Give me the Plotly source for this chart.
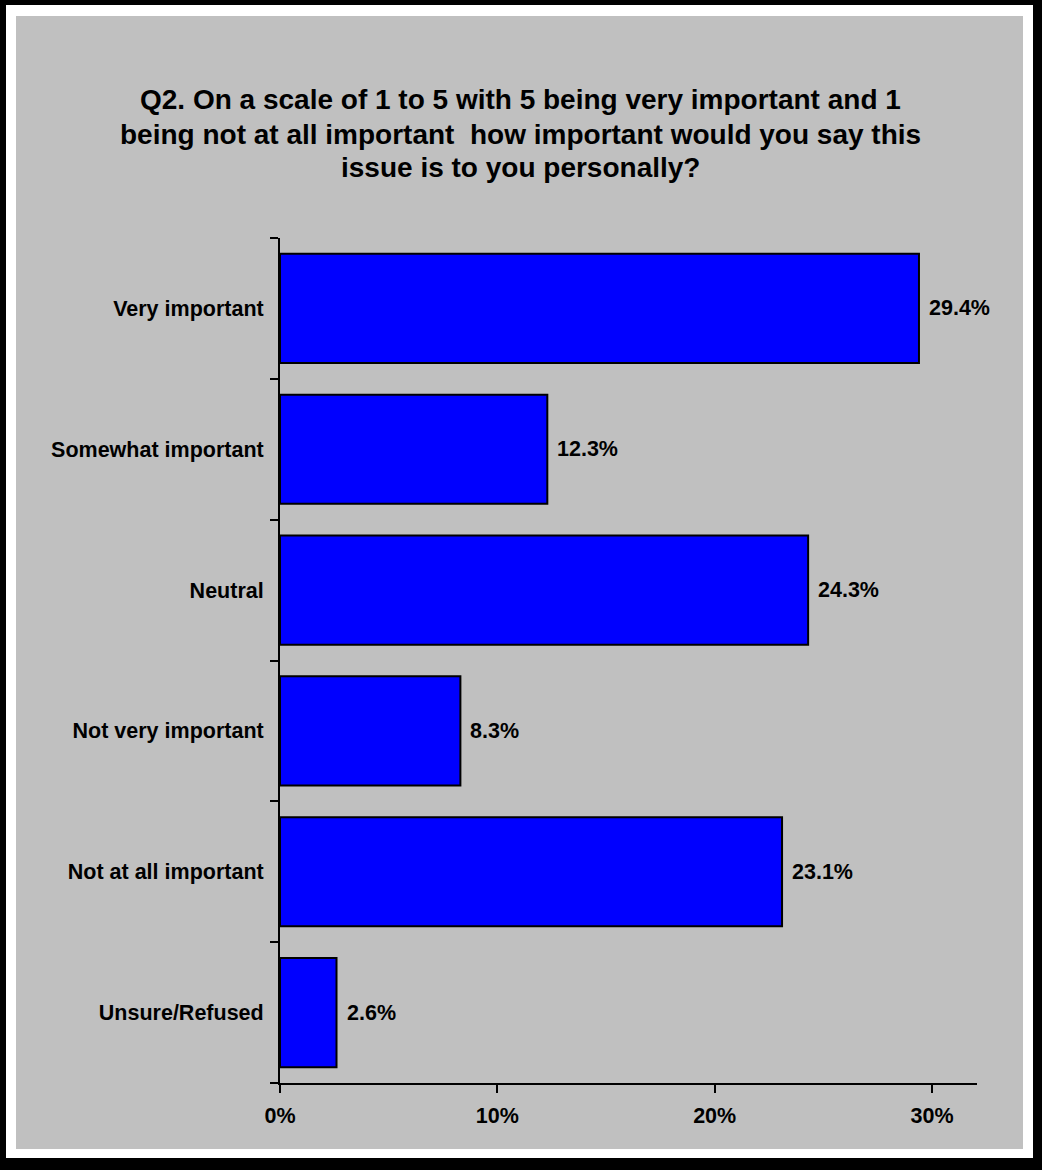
import plotly.graph_objects as go

categories = ["Very important", "Somewhat important", "Neutral",
              "Not very important", "Not at all important", "Unsure/Refused"]
values = [29.4, 12.3, 24.3, 8.3, 23.1, 2.6]
value_labels = ["29.4%", "12.3%", "24.3%", "8.3%", "23.1%", "2.6%"]
x_tickvals = [0, 10, 20, 30]
x_ticktext = ["0%", "10%", "20%", "30%"]
title_lines = ["Q2. On a scale of 1 to 5 with 5 being very important and 1",
               "being not at all important  how important would you say this",
               "issue is to you personally?"]

W, H = 1042, 1170
L, R, T, B = 280, 65, 238, 87
PW, PH = W - L - R, H - T - B

def px_x(p):
    return (p - L) / PW

def px_y(p):
    return (H - B - p) / PH

FONT = "Liberation Sans, Arial, sans-serif"
LBL = 21.5

fig = go.Figure()
fig.add_trace(go.Bar(
    y=categories, x=values, orientation="h",
    marker=dict(color="#0000FF", line=dict(color="black", width=2)),
    hoverinfo="skip",
))

annotations = []
for c, v, t in zip(categories, values, value_labels):
    annotations.append(dict(x=v, y=c, xref="x", yref="y", text=f"<b>{t}</b>",
                            showarrow=False, xanchor="left", xshift=8,
                            font=dict(family=FONT, size=LBL, color="black")))
for line, yc in zip(title_lines, [100, 134, 167]):
    annotations.append(dict(x=px_x(520), y=px_y(yc), xref="paper", yref="paper",
                            text=f"<b>{line}</b>", showarrow=False,
                            xanchor="center", yanchor="middle",
                            font=dict(family=FONT, size=28, color="black")))

shapes = [
    dict(type="rect", xref="paper", yref="paper", layer="below",
         x0=px_x(6), x1=px_x(1033), y0=px_y(5), y1=px_y(1158),
         fillcolor="white", line=dict(width=0)),
    dict(type="rect", xref="paper", yref="paper", layer="below",
         x0=px_x(16), x1=px_x(1023), y0=px_y(16), y1=px_y(1149),
         fillcolor="#C0C0C0", line=dict(width=0)),
]

fig.update_layout(
    width=W, height=H,
    margin=dict(l=L, r=R, t=T, b=B, pad=0),
    paper_bgcolor="black",
    plot_bgcolor="rgba(0,0,0,0)",
    bargap=0.225,
    showlegend=False,
    hovermode=False,
    annotations=annotations,
    shapes=shapes,
    font=dict(family=FONT, size=LBL, color="black"),
    xaxis=dict(range=[0, 32.07], tickvals=x_tickvals, ticktext=[f"<b>{t}</b>" for t in x_ticktext],
               showgrid=False, zeroline=False, showline=True, linecolor="black", linewidth=2,
               ticks="outside", ticklen=8, tickwidth=2, tickcolor="black",
               ticklabelstandoff=4,
               tickfont=dict(family=FONT, size=LBL, color="black")),
    yaxis=dict(categoryorder="array", categoryarray=categories, autorange="reversed",
               tickvals=categories, ticktext=[f"<b>{c}</b>" for c in categories],
               showgrid=False, zeroline=False, showline=True, linecolor="black", linewidth=2,
               ticks="outside", ticklen=8, tickwidth=2, tickcolor="black",
               tickson="boundaries", ticklabelstandoff=10,
               tickfont=dict(family=FONT, size=LBL, color="black")),
)

fig.write_html("out.html", config={"displayModeBar": False},
               post_script="document.body.style.margin='0';")
